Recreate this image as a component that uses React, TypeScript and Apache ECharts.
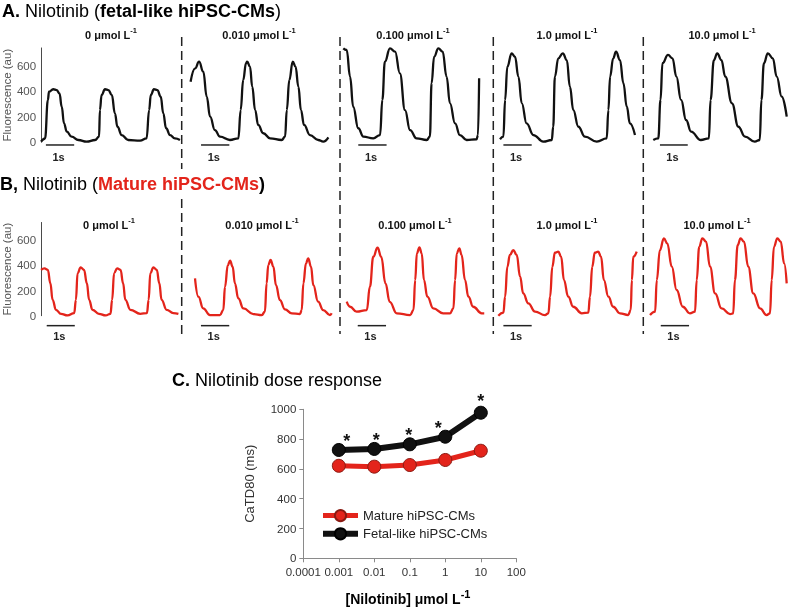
import React, { useEffect, useRef } from "react";
import * as echarts from "echarts";

// ---------- DATA ----------
// Doses (subplot titles)
const doseLabels = ["0", "0.010", "0.100", "1.0", "10.0"];

// Panel A: fetal-like hiPSC-CMs calcium transients, [time (s), fluorescence (au)]
const fetal_0 = [[0,5],[0.14,30],[0.24,330],[0.28,397],[0.43,416],[0.55,410],[0.65,384],[0.73,279],[0.81,149],[0.91,83],[1.08,44],[1.32,18],[1.61,5],[1.91,18],[2.05,44],[2.08,253],[2.14,371],[2.26,416],[2.38,410],[2.5,371],[2.61,227],[2.7,122],[2.85,57],[3.08,18],[3.5,13],[3.73,31],[3.82,253],[3.88,371],[3.99,416],[4.11,410],[4.23,358],[4.32,227],[4.42,110],[4.56,57],[4.73,31],[4.91,18]];
const fetal_0010 = [[0.02,475],[0.18,580],[0.32,632],[0.47,554],[0.59,358],[0.71,201],[0.88,96],[1.06,44],[1.41,18],[1.71,31],[1.79,253],[1.88,489],[1.98,620],[2.02,632],[2.12,593],[2.2,436],[2.3,253],[2.41,136],[2.59,71],[2.83,31],[3.24,18],[3.36,44],[3.42,253],[3.51,489],[3.63,632],[3.73,593],[3.83,436],[3.92,253],[4.03,136],[4.24,57],[4.53,18],[4.71,5],[4.89,39]];
const fetal_0100 = [[0.01,737],[0.13,724],[0.25,515],[0.36,279],[0.54,110],[0.72,44],[1.07,31],[1.31,57],[1.39,332],[1.48,632],[1.66,737],[1.84,711],[2.01,541],[2.19,253],[2.37,96],[2.6,31],[2.96,18],[3.07,44],[3.13,463],[3.22,671],[3.37,737],[3.52,711],[3.66,515],[3.78,306],[3.96,149],[4.13,57],[4.37,18],[4.72,24],[4.77,57],[4.81,502]];
const fetal_1 = [[0,24],[0.12,44],[0.18,332],[0.26,593],[0.41,698],[0.53,671],[0.65,515],[0.77,306],[0.94,149],[1.18,57],[1.53,5],[1.83,18],[1.88,122],[1.94,515],[2.06,659],[2.22,698],[2.36,645],[2.47,436],[2.59,253],[2.77,122],[3.0,44],[3.42,5],[3.77,31],[3.83,253],[3.89,515],[4.0,659],[4.1,711],[4.24,645],[4.36,463],[4.48,279],[4.59,149],[4.77,57]];
const fetal_10 = [[0.01,18],[0.19,31],[0.27,332],[0.34,620],[0.54,685],[0.7,659],[0.84,515],[1.01,332],[1.19,175],[1.37,83],[1.72,18],[2.01,31],[2.07,332],[2.19,645],[2.31,698],[2.46,645],[2.6,515],[2.84,306],[3.07,122],[3.31,44],[3.66,5],[3.84,18],[3.9,332],[3.99,620],[4.13,698],[4.31,659],[4.45,515],[4.63,358],[4.81,201]];

// Panel B: mature hiPSC-CMs calcium transients, [time (s), fluorescence (au)]
const mature_0 = [[0,364],[0.12,376],[0.24,364],[0.33,258],[0.41,126],[0.53,47],[0.71,15],[0.94,2],[1.18,21],[1.24,126],[1.3,338],[1.41,384],[1.53,364],[1.63,258],[1.71,126],[1.83,47],[2.06,15],[2.3,2],[2.47,15],[2.53,126],[2.6,338],[2.71,376],[2.83,364],[2.92,258],[3.0,126],[3.18,47],[3.53,15],[3.77,21],[3.83,126],[3.89,338],[4.0,384],[4.12,364],[4.21,258],[4.29,126],[4.47,47],[4.71,21],[4.89,15]];
const mature_0010 = [[0,297],[0.12,151],[0.29,58],[0.53,5],[0.88,5],[1.0,45],[1.06,230],[1.16,402],[1.24,437],[1.33,389],[1.41,257],[1.53,138],[1.71,58],[2.06,13],[2.36,5],[2.47,32],[2.53,257],[2.59,402],[2.67,442],[2.77,389],[2.86,243],[3.0,124],[3.18,50],[3.42,19],[3.71,13],[3.77,45],[3.83,257],[3.92,415],[4.0,455],[4.1,389],[4.18,243],[4.35,111],[4.53,45],[4.77,5],[4.83,19]];
const mature_0100 = [[0,111],[0.12,71],[0.35,32],[0.71,45],[0.82,230],[0.94,468],[1.09,540],[1.22,468],[1.37,257],[1.52,110],[1.77,19],[2.24,5],[2.36,45],[2.42,283],[2.48,495],[2.57,543],[2.65,495],[2.73,283],[2.85,151],[3.06,58],[3.41,19],[3.65,19],[3.77,58],[3.83,283],[3.89,495],[3.98,535],[4.06,482],[4.18,283],[4.3,151],[4.47,71],[4.77,19],[4.86,19]];
const mature_1 = [[0,0],[0.18,24],[0.24,151],[0.32,389],[0.41,482],[0.53,521],[0.65,482],[0.77,310],[0.88,177],[1.06,98],[1.3,32],[1.65,5],[1.77,19],[1.83,151],[1.91,389],[2.0,500],[2.12,508],[2.22,468],[2.32,283],[2.47,151],[2.65,71],[2.95,19],[3.18,24],[3.24,151],[3.32,389],[3.41,500],[3.53,508],[3.63,468],[3.73,283],[3.89,151],[4.06,71],[4.3,19],[4.59,5],[4.68,45],[4.72,283],[4.77,468],[4.89,508]];
const mature_10 = [[0,5],[0.18,32],[0.24,283],[0.35,521],[0.49,614],[0.61,574],[0.77,389],[0.94,204],[1.16,71],[1.41,19],[1.59,32],[1.65,283],[1.74,547],[1.85,614],[1.98,588],[2.12,389],[2.3,177],[2.53,58],[2.83,13],[2.94,19],[3.0,283],[3.1,561],[3.2,614],[3.32,588],[3.47,389],[3.65,177],[3.89,58],[4.12,5],[4.24,19],[4.3,283],[4.38,547],[4.5,614],[4.62,588],[4.74,415],[4.83,257]];

// Panel C: dose response
const doseConc = [0.001, 0.01, 0.1, 1, 10];
const matureCaTD80 = [621, 615, 626, 660, 722];
const fetalCaTD80 = [727, 734, 765, 816, 977];
const significance = ["*", "*", "*", "*", "*"];
const doseTickLabels = ["0.0001", "0.001", "0.01", "0.1", "1", "10", "100"];
const scaleBarSeconds = 1;

// ---------- LAYOUT / STYLE ----------
const FONT = '"Liberation Sans", Arial, Helvetica, sans-serif';
const RED = "#e3241b";
const INK = "#111111";
const PX_PER_S = 28.3;
const TRACE_SPAN_S = 5;
const FLUOR_MAX = 740;

const rows = [
  {
    traces: [fetal_0, fetal_0010, fetal_0100, fetal_1, fetal_10],
    color: INK,
    zeroY: 142.3,
    pxPer200: 25.5,
    lefts: [41, 190, 343, 500, 653],
    titleX: [111, 259, 413, 567, 722],
    titleY: 33,
    barStart: [0.17, 0.39, 0.54, 0.12, 0.25],
    barY: -21,
    barLabelY: -113,
  },
  {
    traces: [mature_0, mature_0010, mature_0100, mature_1, mature_10],
    color: RED,
    zeroY: 315.7,
    pxPer200: 25.2,
    lefts: [40, 195, 346.7, 498.3, 650],
    titleX: [109, 262, 415, 567, 717],
    titleY: 223.5,
    barStart: [0.2, 0.21, 0.39, 0.18, 0.38],
    barY: -79,
    barLabelY: -159,
  },
];

export default function App() {
  const ref = useRef<HTMLDivElement>(null);

  useEffect(() => {
    document.body.style.margin = "0";
    const chart = echarts.init(ref.current as HTMLDivElement, null, { renderer: "svg" });

    const grid: any[] = [];
    const xAxis: any[] = [];
    const yAxis: any[] = [];
    const series: any[] = [];

    rows.forEach((row) => {
      const h = (FLUOR_MAX / 200) * row.pxPer200;
      row.traces.forEach((trace, j) => {
        const gi = grid.length;
        grid.push({ left: row.lefts[j], top: row.zeroY - h, width: TRACE_SPAN_S * PX_PER_S, height: h });
        xAxis.push({ gridIndex: gi, type: "value", min: 0, max: TRACE_SPAN_S, show: false });
        const showAxis = j === 0;
        yAxis.push({
          gridIndex: gi,
          type: "value",
          min: 0,
          max: FLUOR_MAX,
          interval: 200,
          show: showAxis,
          splitLine: { show: false },
          axisLine: { show: showAxis, lineStyle: { color: "#4a4a4a", width: 1 } },
          axisTick: { show: false },
          axisLabel: { show: showAxis, showMaxLabel: false, fontSize: 11.5, color: "#555", fontFamily: FONT, margin: 5 },
          name: showAxis ? "Fluorescence (au)" : "",
          nameLocation: "middle",
          nameGap: 28,
          nameTextStyle: { fontSize: 11.5, color: "#555", fontFamily: FONT },
        });
        series.push({
          type: "line",
          xAxisIndex: gi,
          yAxisIndex: gi,
          data: trace,
          showSymbol: false,
          smooth: 0.45,
          smoothMonotone: "x",
          clip: false,
          lineStyle: { color: row.color, width: 2.3 },
          silent: true,
        });
      });
    });

    // Dose-response grid
    const gC = grid.length;
    grid.push({ left: 303.3, top: 409.3, width: 213, height: 149 });
    xAxis.push({
      gridIndex: gC,
      type: "log",
      logBase: 10,
      min: 0.0001,
      max: 100,
      axisLine: { show: true, lineStyle: { color: "#8a8a8a", width: 1 } },
      axisTick: { show: true, length: 4, lineStyle: { color: "#8a8a8a" } },
      minorTick: { show: false },
      splitLine: { show: false },
      axisLabel: {
        fontSize: 11.5,
        color: "#333",
        fontFamily: FONT,
        margin: 8,
        formatter: (v: number) => doseTickLabels[Math.round(Math.log10(v)) + 4] ?? "",
      },
    });
    yAxis.push({
      gridIndex: gC,
      type: "value",
      min: 0,
      max: 1000,
      interval: 200,
      axisLine: { show: true, lineStyle: { color: "#8a8a8a", width: 1 } },
      axisTick: { show: true, length: 4, lineStyle: { color: "#8a8a8a" } },
      splitLine: { show: false },
      axisLabel: { fontSize: 11.5, color: "#333", fontFamily: FONT, margin: 7, formatter: (v: number) => String(v) },
      name: "CaTD80 (ms)",
      nameLocation: "middle",
      nameGap: 47,
      nameTextStyle: { fontSize: 13, color: "#333", fontFamily: FONT },
    });
    const starOffsets = [[8, 7], [2, 7], [-1, 7], [-7, 7], [0, 4]];
    series.push({
      name: "Mature hiPSC-CMs",
      type: "line",
      xAxisIndex: gC,
      yAxisIndex: gC,
      data: doseConc.map((c, i) => [c, matureCaTD80[i]]),
      symbol: "circle",
      symbolSize: 13,
      lineStyle: { color: RED, width: 5 },
      itemStyle: { color: RED, borderColor: "#8a1a12", borderWidth: 1 },
    });
    series.push({
      name: "Fetal-like hiPSC-CMs",
      type: "line",
      xAxisIndex: gC,
      yAxisIndex: gC,
      data: doseConc.map((c, i) => ({
        value: [c, fetalCaTD80[i]],
        label: { show: true, formatter: significance[i], offset: starOffsets[i] },
      })),
      symbol: "circle",
      symbolSize: 13,
      lineStyle: { color: INK, width: 6 },
      itemStyle: { color: INK, borderColor: "#000", borderWidth: 1 },
      label: { show: true, position: "top", distance: 0, fontSize: 18, fontWeight: "bold", color: INK, fontFamily: FONT },
    });

    chart.setOption({
      animation: false,
      textStyle: { fontFamily: FONT },
      grid,
      xAxis,
      yAxis,
      series,
      legend: {
        data: ["Mature hiPSC-CMs", "Fetal-like hiPSC-CMs"],
        orient: "vertical",
        left: 315,
        top: 504,
        itemWidth: 35,
        itemHeight: 14,
        itemGap: 5,
        lineStyle: { width: "inherit" },
        textStyle: { fontSize: 13, color: "#222", fontFamily: FONT },
      },
    });

    // ----- graphics (titles, dividers, scale bars) -----
    const els: any[] = [];
    const titleRich = {
      b: { fontWeight: "bold", fontSize: 18, fontFamily: FONT, fill: "#000" },
      r: { fontWeight: "bold", fontSize: 18, fontFamily: FONT, fill: RED },
    };
    els.push({
      type: "text", x: 2, y: 11,
      style: { text: "{b|A.} Nilotinib ({b|fetal-like hiPSC-CMs})", rich: titleRich, fontSize: 18, fontFamily: FONT, fill: "#000", verticalAlign: "middle" },
    });
    els.push({
      type: "text", x: 0, y: 184,
      style: { text: "{b|B,} Nilotinib ({r|Mature hiPSC-CMs}{b|)}", rich: titleRich, fontSize: 18, fontFamily: FONT, fill: "#000", verticalAlign: "middle" },
    });
    els.push({
      type: "text", x: 172, y: 380,
      style: { text: "{b|C.} Nilotinib dose response", rich: titleRich, fontSize: 18, fontFamily: FONT, fill: "#000", verticalAlign: "middle" },
    });
    els.push({
      type: "text", x: 408, y: 597,
      style: {
        text: "{n|[Nilotinib] μmol L}{s|-1}",
        align: "center",
        verticalAlign: "middle",
        rich: {
          n: { fontSize: 14, fontWeight: "bold", fontFamily: FONT, fill: "#000", lineHeight: 18, verticalAlign: "bottom" },
          s: { fontSize: 11, fontWeight: "bold", fontFamily: FONT, fill: "#000", lineHeight: 18, verticalAlign: "top" },
        },
      },
    });

    // dashed dividers
    const dash = { stroke: "#222", lineWidth: 1.5, lineDash: [9, 5] };
    els.push({ type: "line", shape: { x1: 181.7, y1: 37, x2: 181.7, y2: 169 }, style: dash });
    els.push({ type: "line", shape: { x1: 181.7, y1: 199, x2: 181.7, y2: 334 }, style: dash });
    [340, 493.3, 643.3].forEach((x) => {
      els.push({ type: "line", shape: { x1: x, y1: 37, x2: x, y2: 334 }, style: dash });
    });

    let gi = 0;
    rows.forEach((row) => {
      row.traces.forEach((_, j) => {
        // dose title
        els.push({
          type: "text", x: row.titleX[j], y: row.titleY,
          style: {
            text: `{n|${doseLabels[j]} μmol L}{s|-1}`,
            align: "center",
            verticalAlign: "middle",
            rich: {
              n: { fontSize: 11, fontWeight: "bold", fontFamily: FONT, fill: "#111", lineHeight: 14, verticalAlign: "bottom" },
              s: { fontSize: 7.5, fontWeight: "bold", fontFamily: FONT, fill: "#111", lineHeight: 14, verticalAlign: "top" },
            },
          },
        });
        // scale bar (1 s) through the subplot's own scales
        const finder = { xAxisIndex: gi, yAxisIndex: gi };
        const p1 = chart.convertToPixel(finder, [row.barStart[j], row.barY]) as number[];
        const p2 = chart.convertToPixel(finder, [row.barStart[j] + scaleBarSeconds, row.barY]) as number[];
        const pl = chart.convertToPixel(finder, [row.barStart[j] + 0.45 * scaleBarSeconds, row.barLabelY]) as number[];
        els.push({ type: "line", shape: { x1: p1[0], y1: p1[1], x2: p2[0], y2: p2[1] }, style: { stroke: "#222", lineWidth: 1.5 } });
        els.push({
          type: "text", x: pl[0], y: pl[1],
          style: { text: `${scaleBarSeconds}s`, fontSize: 11, fontWeight: "bold", fontFamily: FONT, fill: "#222", align: "center", verticalAlign: "middle" },
        });
        gi++;
      });
    });

    chart.setOption({ graphic: { elements: els } });

    return () => chart.dispose();
  }, []);

  return <div ref={ref} style={{ position: "fixed", left: 0, top: 0, width: 792, height: 609 }} />;
}
